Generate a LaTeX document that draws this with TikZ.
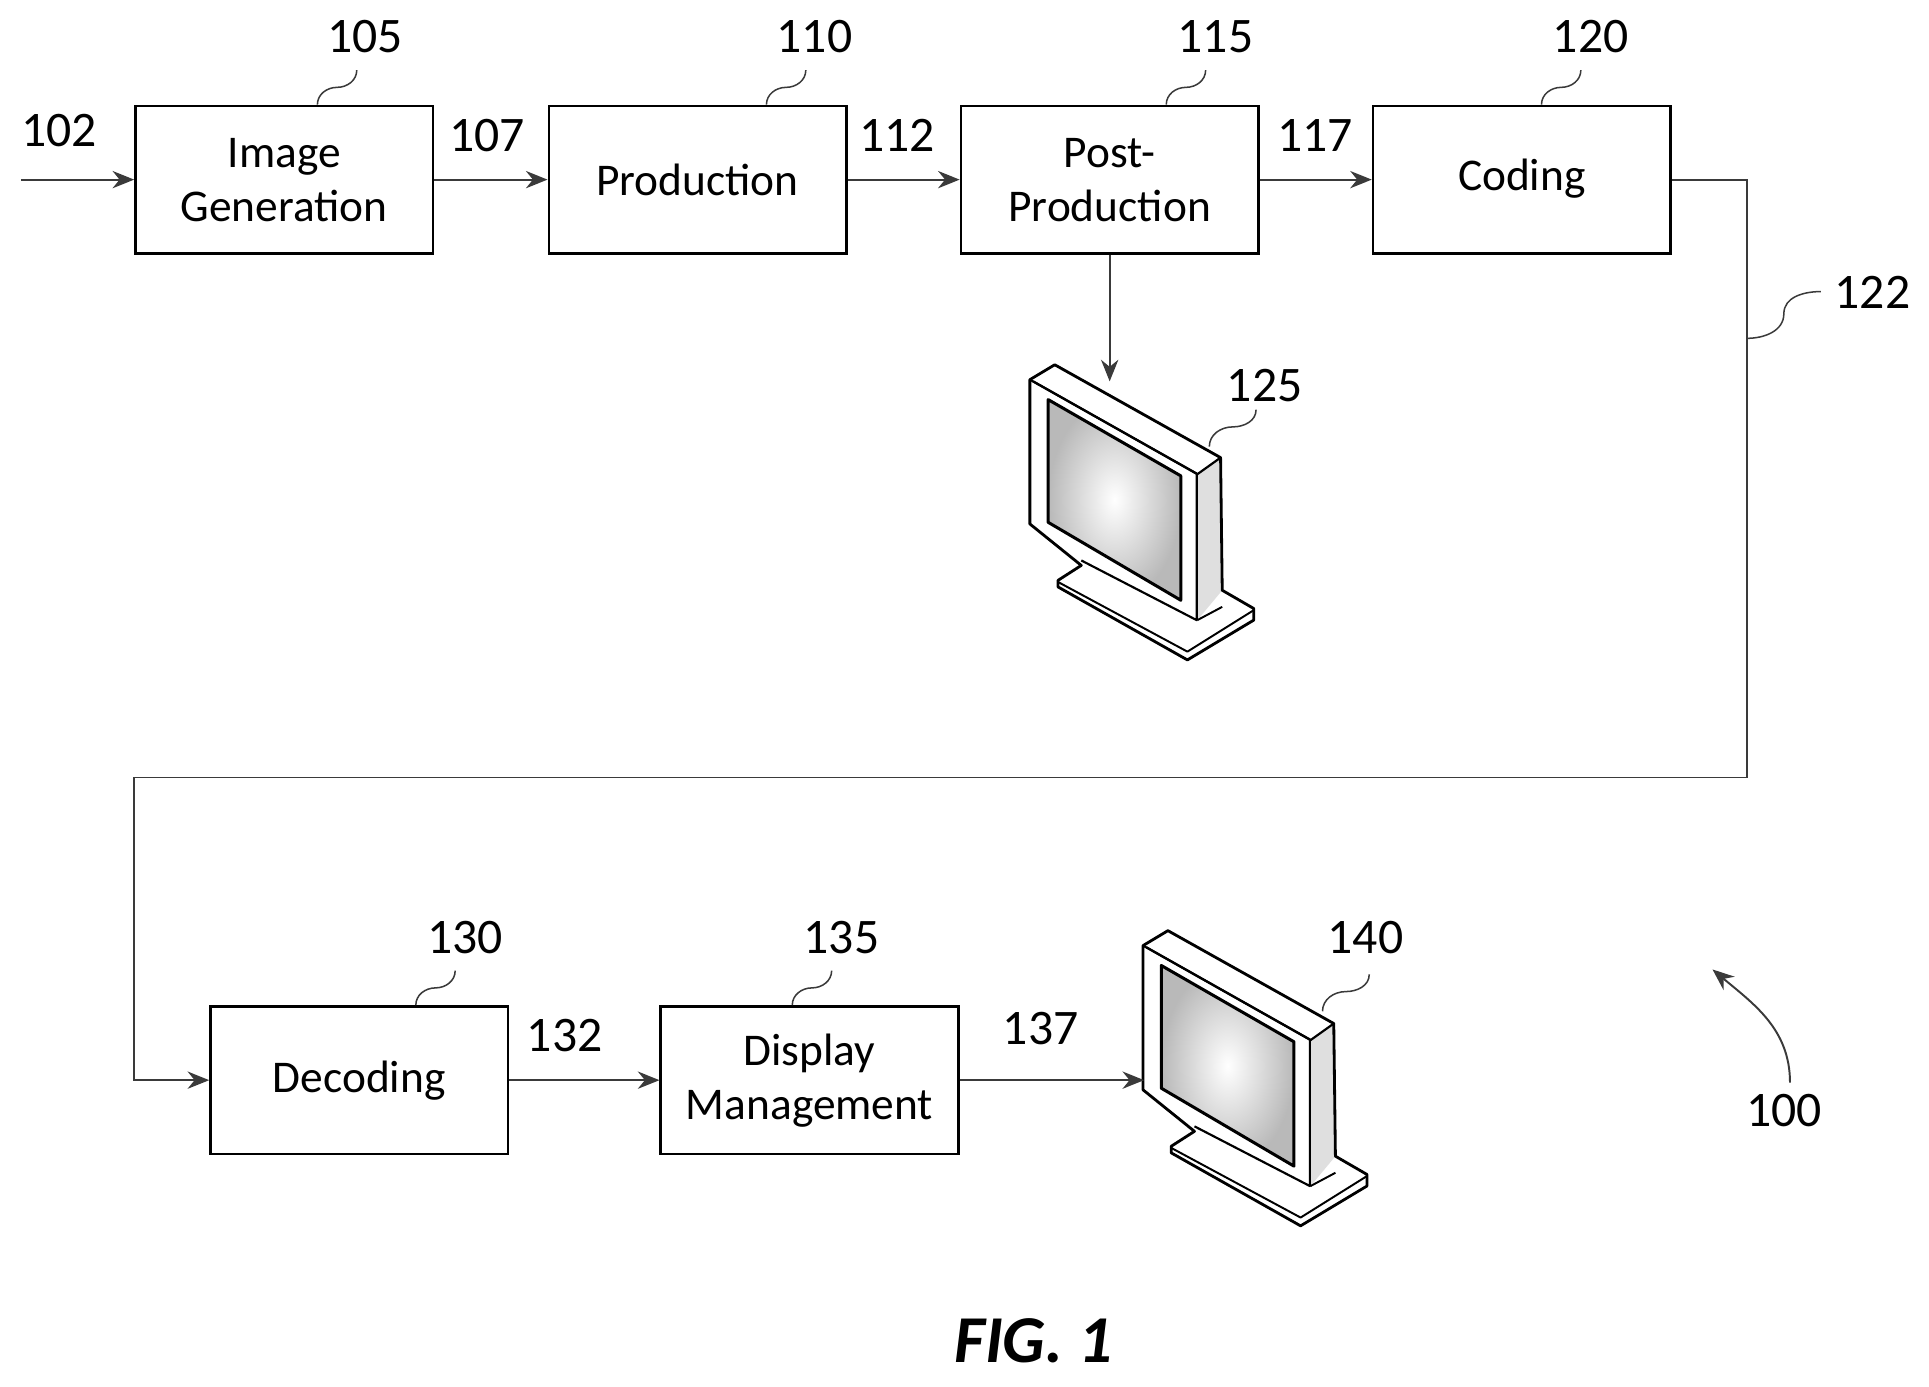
\documentclass[tikz,border=0pt]{standalone}
\usepackage{fontspec}
\setmainfont{Carlito}
\usetikzlibrary{arrows.meta}
\definecolor{ln}{HTML}{3A3A3A}
\begin{document}
\begin{tikzpicture}[x=0.02cm,y=-0.02cm,
  box/.style={draw=black,line width=1.1pt,minimum width=4.84cm,minimum height=2.40cm,align=center,font=\fontsize{21}{25}\selectfont,inner sep=0pt},
  lab/.style={font=\fontsize{23}{27}\selectfont,inner sep=0pt},
  arr/.style={draw=ln,line width=0.9pt,-{Stealth[length=10pt,width=8pt]}},
  sq/.style={draw=ln,line width=0.7pt},
  mon/.pic={
    \begin{scope}[x=0.2696*0.02cm,y=-0.2696*0.02cm,line join=round]
    \shade[inner color=white,outer color=gray!55] (100,155)--(500,385)--(500,760)--(100,525)--cycle;
    \fill[gray!25] (550,380)--(620,330)--(625,730)--(550,820)--cycle;
    \draw[line width=1.3pt] (45,95)--(120,50)--(620,330)--(625,730)--(720,785)--(720,820)--(520,940)--(130,720)--(130,700)--(200,655)--(45,530)--cycle;
    \draw[line width=1pt] (45,95)--(550,380)--(620,330);
    \draw[line width=1pt] (55,100)--(548,378)--(548,820)--(200,640);
    \draw[line width=1.4pt] (100,155)--(500,385)--(500,760)--(100,525)--cycle;
    \draw[line width=0.9pt] (130,705)--(520,915)--(720,790);
    \draw[line width=0.9pt] (550,820)--(625,780);
    \end{scope}}]
\useasboundingbox (0,0) rectangle (1568,1127);
\node[box] (b105) at (231,146) {Image\\Generation};
\node[box] (b110) at (567,146) {Production};
\node[box] (b115) at (902,146) {Post-\\Production};
\node[box] (b120) at (1237,146) {Coding\strut};
\node[box] (b130) at (292,878) {Decoding};
\node[box] (b135) at (658,878) {Display\\Management};
\coordinate (in) at (17,146);
\draw[arr] (in) -- (b105.west);
\draw[arr] (b105) -- (b110);
\draw[arr] (b110) -- (b115);
\draw[arr] (b115) -- (b120);
\coordinate (c1) at (1420,146);
\coordinate (c2) at (1420,632);
\coordinate (c3) at (109,632);
\coordinate (c4) at (109,878);
\draw[arr] (b120.east) -- (c1) -- (c2) -- (c3) -- (c4) -- (b130.west);
\draw[arr] (b130) -- (b135);
\pic at (825,283) {mon};
\pic at (917,743) {mon};
\coordinate (m125) at (902,310);
\coordinate (m140) at (930,878);
\draw[arr] (b115.south) -- (m125);
\draw[arr] (b135.east) -- (m140);
% labels
\node[lab] (l102) at (48,106) {102};
\node[lab] (l107) at (396,110) {107};
\node[lab] (l112) at (729,110) {112};
\node[lab] (l117) at (1069,110) {117};
\node[lab] (l105) at (297,30) {105};
\node[lab] (l110) at (662,30) {110};
\node[lab] (l115) at (988,30) {115};
\node[lab] (l120) at (1293,30) {120};
\node[lab] (l122) at (1522,238) {122};
\node[lab] (l125) at (1028,313) {125};
\node[lab] (l130) at (378,762) {130};
\node[lab] (l135) at (684,762) {135};
\node[lab] (l132) at (459,842) {132};
\node[lab] (l137) at (846,836) {137};
\node[lab] (l140) at (1110,762) {140};
\node[lab] (l100) at (1450,903) {100};
\node[font=\fontsize{31}{35}\selectfont\bfseries\itshape] (fig) at (840,1090) {FIG. 1};
% squiggles
\foreach \a/\b in {258/85,623/85,948/85,1253/85,338/817,644/817} {
  \draw[sq] (\a,\b) to[out=90,in=180] ++(16,-14) to[out=0,in=-90] ++(16,-14);
}
\draw[sq] (1420,275) to[out=0,in=-90] ++(30,-20) to[out=90,in=180] ++(30,-18);
\draw[sq] (983,363) to[out=90,in=180] ++(19,-16) to[out=0,in=-90] ++(19,-14);
\draw[sq] (1075,822) to[out=90,in=180] ++(19,-16) to[out=0,in=-90] ++(19,-14);
\coordinate (a100s) at (1455,880);
\coordinate (a100e) at (1392,788);
\draw[arr] (a100s) to[out=90,in=-40] (a100e);
\end{tikzpicture}
\end{document}
